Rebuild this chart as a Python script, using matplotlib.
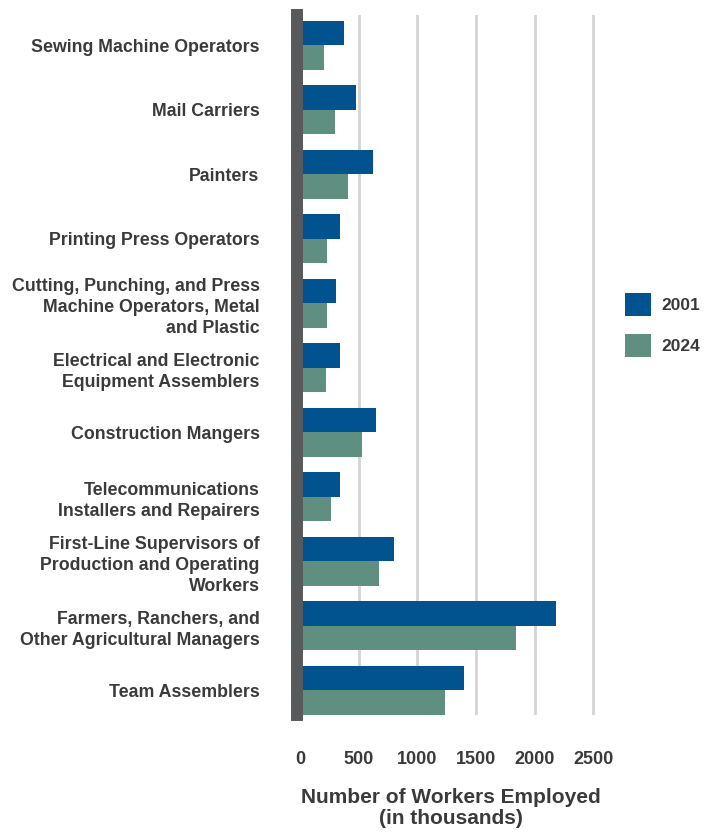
import matplotlib.pyplot as plt
import numpy as np
from matplotlib.patches import Patch

plt.rcParams['font.family'] = ['Liberation Sans', 'DejaVu Sans']
plt.rcParams['font.weight'] = 'bold'

# occupations, top to bottom
occupations = [
    "Sewing Machine Operators",
    "Mail Carriers",
    "Painters",
    "Printing Press Operators",
    "Cutting, Punching, and Press\nMachine Operators, Metal\nand Plastic",
    "Electrical and Electronic\nEquipment Assemblers",
    "Construction Mangers",
    "Telecommunications\nInstallers and Repairers",
    "First-Line Supervisors of\nProduction and Operating\nWorkers",
    "Farmers, Ranchers, and\nOther Agricultural Managers",
    "Team Assemblers",
]
# workers employed, thousands
workers_2001 = [375, 480, 625, 340, 310, 340, 648, 340, 800, 2180, 1400]
workers_2024 = [207, 296, 406, 230, 230, 219, 526, 261, 676, 1845, 1233]
xticks = [0, 500, 1000, 1500, 2000, 2500]

blue = '#00538f'
green = '#5f8f80'
text_col = '#3a3a3a'

fig = plt.figure(figsize=(7.09, 8.33), dpi=100)
ax = fig.add_axes([0.4189, 0.1417, 0.4344, 0.8403])

y = np.arange(len(occupations))
h = 0.38
ax.barh(y - h / 2, workers_2001, height=h, color=blue, label='2001', zorder=3)
ax.barh(y + h / 2, workers_2024, height=h, color=green, label='2024', zorder=3)

ax.set_ylim(10.38, -0.47)
ax.set_xlim(-26, 2600)
ax.set_yticks(y)
ax.set_yticklabels(occupations, fontsize=12.8, color=text_col, linespacing=1.3)
ax.set_xticks(xticks)
ax.set_xticklabels([str(t) for t in xticks], fontsize=13, color=text_col)
ax.tick_params(axis='both', length=0)
ax.tick_params(axis='y', pad=27)
ax.tick_params(axis='x', pad=26)

ax.grid(axis='x', color='#d4d4d4', linewidth=2, zorder=0)
for s in ['top', 'right', 'bottom']:
    ax.spines[s].set_visible(False)
ax.spines['left'].set_color('#58595b')
ax.spines['left'].set_linewidth(8.6)
ax.spines['left'].set_capstyle('projecting')
ax.spines['left'].set_zorder(4)

ax.set_xlabel('Number of Workers Employed\n(in thousands)', fontsize=15,
              fontweight='bold', color=text_col, labelpad=14, linespacing=1.15)

handles = [Patch(facecolor=blue, label='2001'), Patch(facecolor=green, label='2024')]
fig.legend(handles=handles, loc='center left', bbox_to_anchor=(0.86, 0.61),
           frameon=False, handlelength=1.5, handleheight=1.7,
           labelspacing=1.0, handletextpad=0.6, labelcolor=text_col,
           prop={'weight': 'bold', 'size': 12.5})

fig.savefig('out.png', dpi=100)
